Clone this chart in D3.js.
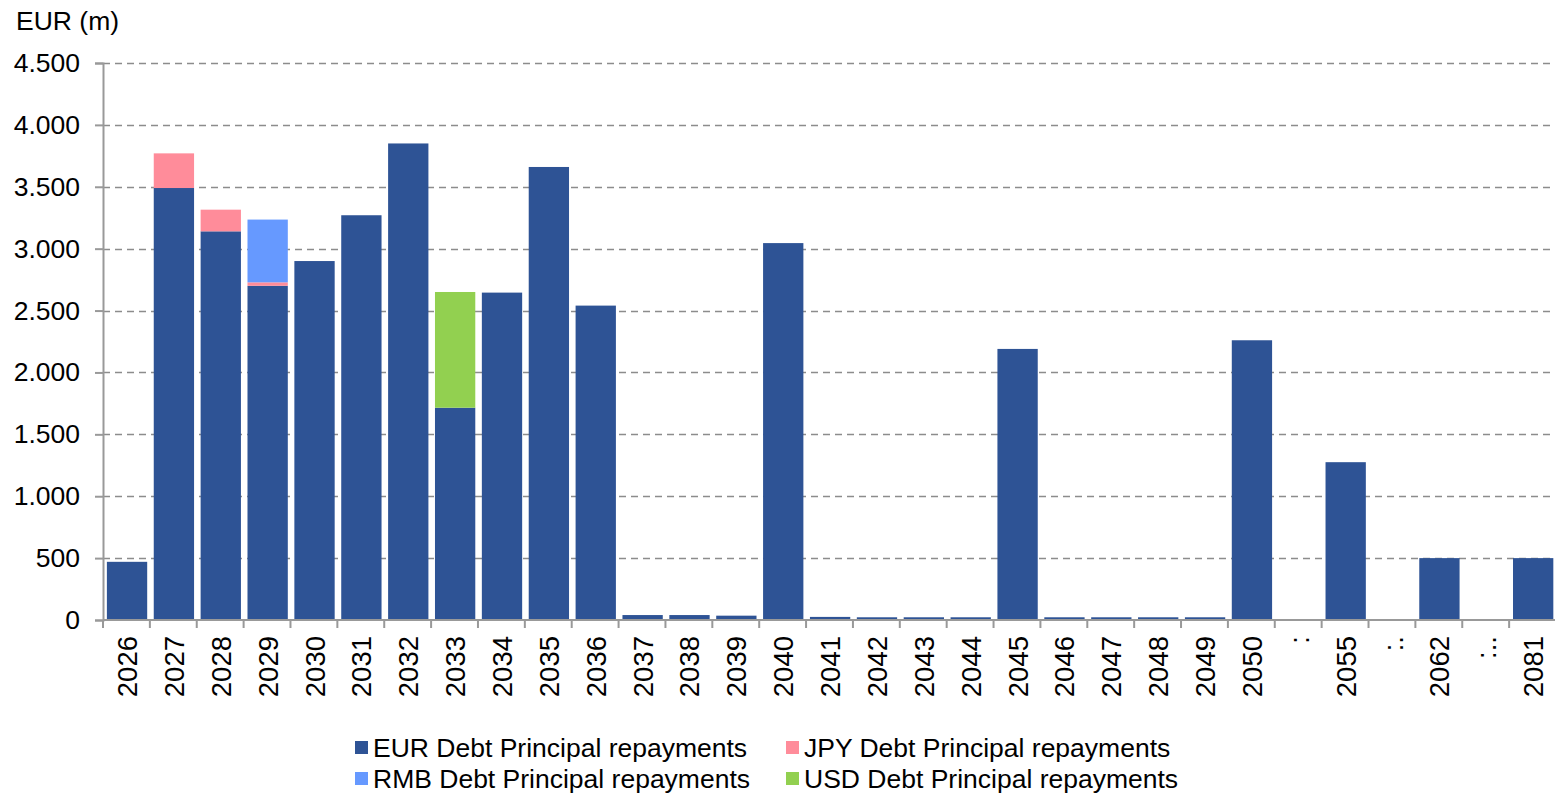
<!DOCTYPE html>
<html>
<head>
<meta charset="utf-8">
<script src="https://cdn.jsdelivr.net/npm/d3@7"></script>
<style>
  html, body { margin: 0; padding: 0; background: #fff; }
  svg { display: block; font-family: "Liberation Sans", Arial, sans-serif; }
</style>
</head>
<body>
<svg id="chart" width="1555" height="793"></svg>
<script>
// Debt principal repayment schedule, EUR millions
const categories = ["2026","2027","2028","2029","2030","2031","2032","2033","2034","2035","2036",
  "2037","2038","2039","2040","2041","2042","2043","2044","2045","2046","2047","2048","2049","2050",
  ":","2055",":.","2062",":..","2081"];
const eurValues = [470,3490,3140,2700,2900,3270,3850,1715,2645,3660,2540,
  40,40,35,3045,25,22,22,22,2190,22,22,22,22,2260,
  0,1275,0,500,0,500];
const jpyValues = [0,280,175,28,0,0,0,0,0,0,0, 0,0,0,0,0,0,0,0,0,0,0,0,0,0, 0,0,0,0,0,0];
const rmbValues = [0,0,0,507,0,0,0,0,0,0,0, 0,0,0,0,0,0,0,0,0,0,0,0,0,0, 0,0,0,0,0,0];
const usdValues = [0,0,0,0,0,0,0,935,0,0,0, 0,0,0,0,0,0,0,0,0,0,0,0,0,0, 0,0,0,0,0,0];
const seriesNames = ["EUR Debt Principal repayments","JPY Debt Principal repayments",
  "RMB Debt Principal repayments","USD Debt Principal repayments"];
const seriesColors = ["#2E5395","#FF8C9A","#6699FF","#92D050"];
const yTicks = [0,500,1000,1500,2000,2500,3000,3500,4000,4500];

const svg = d3.select("#chart");
const W = 1555, H = 793;
const plot = {left: 103, right: 1556, top: 63, bottom: 620};
const FONT = 26.5;

const rows = categories.map((c, i) => ({
  cat: c, eur: eurValues[i], jpy: jpyValues[i], rmb: rmbValues[i], usd: usdValues[i]
}));
const keys = ["eur","jpy","rmb","usd"];
const stacked = d3.stack().keys(keys)(rows);

const x = d3.scaleBand().domain(categories)
  .range([plot.left + 0.6, plot.right + 0.6]).paddingInner(0.14).paddingOuter(0.07);
const y = d3.scaleLinear().domain([0, 4500]).range([plot.bottom, plot.top]);

// horizontal dashed gridlines
svg.append("g").selectAll("line").data(yTicks.filter(d => d > 0)).join("line")
  .attr("x1", plot.left).attr("x2", W)
  .attr("y1", d => Math.round(y(d)) + 0.5).attr("y2", d => Math.round(y(d)) + 0.5)
  .attr("stroke", "#8c8c8c").attr("stroke-width", 1.5).attr("stroke-dasharray", "7,5");

// bars
svg.append("g").selectAll("g").data(stacked).join("g")
  .attr("fill", (d, i) => seriesColors[i])
  .selectAll("rect").data(d => d.filter(p => p[1] - p[0] > 0)).join("rect")
  .attr("x", d => x(d.data.cat))
  .attr("width", x.bandwidth())
  .attr("y", d => y(d[1]))
  .attr("height", d => y(d[0]) - y(d[1]));

// y axis
const yAxis = svg.append("g").attr("transform", `translate(${plot.left},0)`)
  .call(d3.axisLeft(y).tickValues(yTicks).tickSize(8).tickPadding(15)
    .tickFormat(d => d3.format(",")(d).replace(/,/g, ".")));
yAxis.select(".domain").attr("stroke", "#999").attr("stroke-width", 2);
yAxis.selectAll(".tick line").attr("stroke", "#999").attr("stroke-width", 2);
yAxis.selectAll(".tick text").attr("font-size", FONT).attr("fill", "#000")
  .attr("font-family", "Liberation Sans, Arial, sans-serif");

// x axis with boundary ticks between categories
const xAxisG = svg.append("g").attr("transform", `translate(0,${plot.bottom})`);
xAxisG.append("line").attr("x1", plot.left).attr("x2", W)
  .attr("y1", 0).attr("y2", 0).attr("stroke", "#999").attr("stroke-width", 2);
const step = x.step();
const boundaries = d3.range(categories.length + 1).map(i => plot.left + i * step);
xAxisG.selectAll("line.b").data(boundaries).join("line").attr("class", "b")
  .attr("x1", d => d).attr("x2", d => d).attr("y1", 0).attr("y2", 8)
  .attr("stroke", "#999").attr("stroke-width", 2);
xAxisG.selectAll("text").data(categories).join("text")
  .attr("transform", d => `translate(${x(d) + x.bandwidth() / 2 + 10},16) rotate(-90)`)
  .attr("text-anchor", "end")
  .attr("font-size", 27.5).attr("fill", "#000")
  .text(d => d);

// unit label
svg.append("text").attr("x", 16).attr("y", 30).attr("font-size", FONT).attr("fill", "#000")
  .text("EUR (m)");

// legend
const legendPos = [[355, 748], [786, 748], [355, 779], [786, 779]];
const order = [0, 1, 2, 3];
const lg = svg.append("g").selectAll("g").data(order).join("g")
  .attr("transform", i => `translate(${legendPos[i][0]},${legendPos[i][1]})`);
lg.append("rect").attr("x", 0).attr("y", -7).attr("width", 13).attr("height", 13)
  .attr("fill", i => seriesColors[i]);
lg.append("text").attr("x", 18).attr("y", 9).attr("font-size", FONT).attr("fill", "#000")
  .text(i => seriesNames[i]);
</script>
</body>
</html>
